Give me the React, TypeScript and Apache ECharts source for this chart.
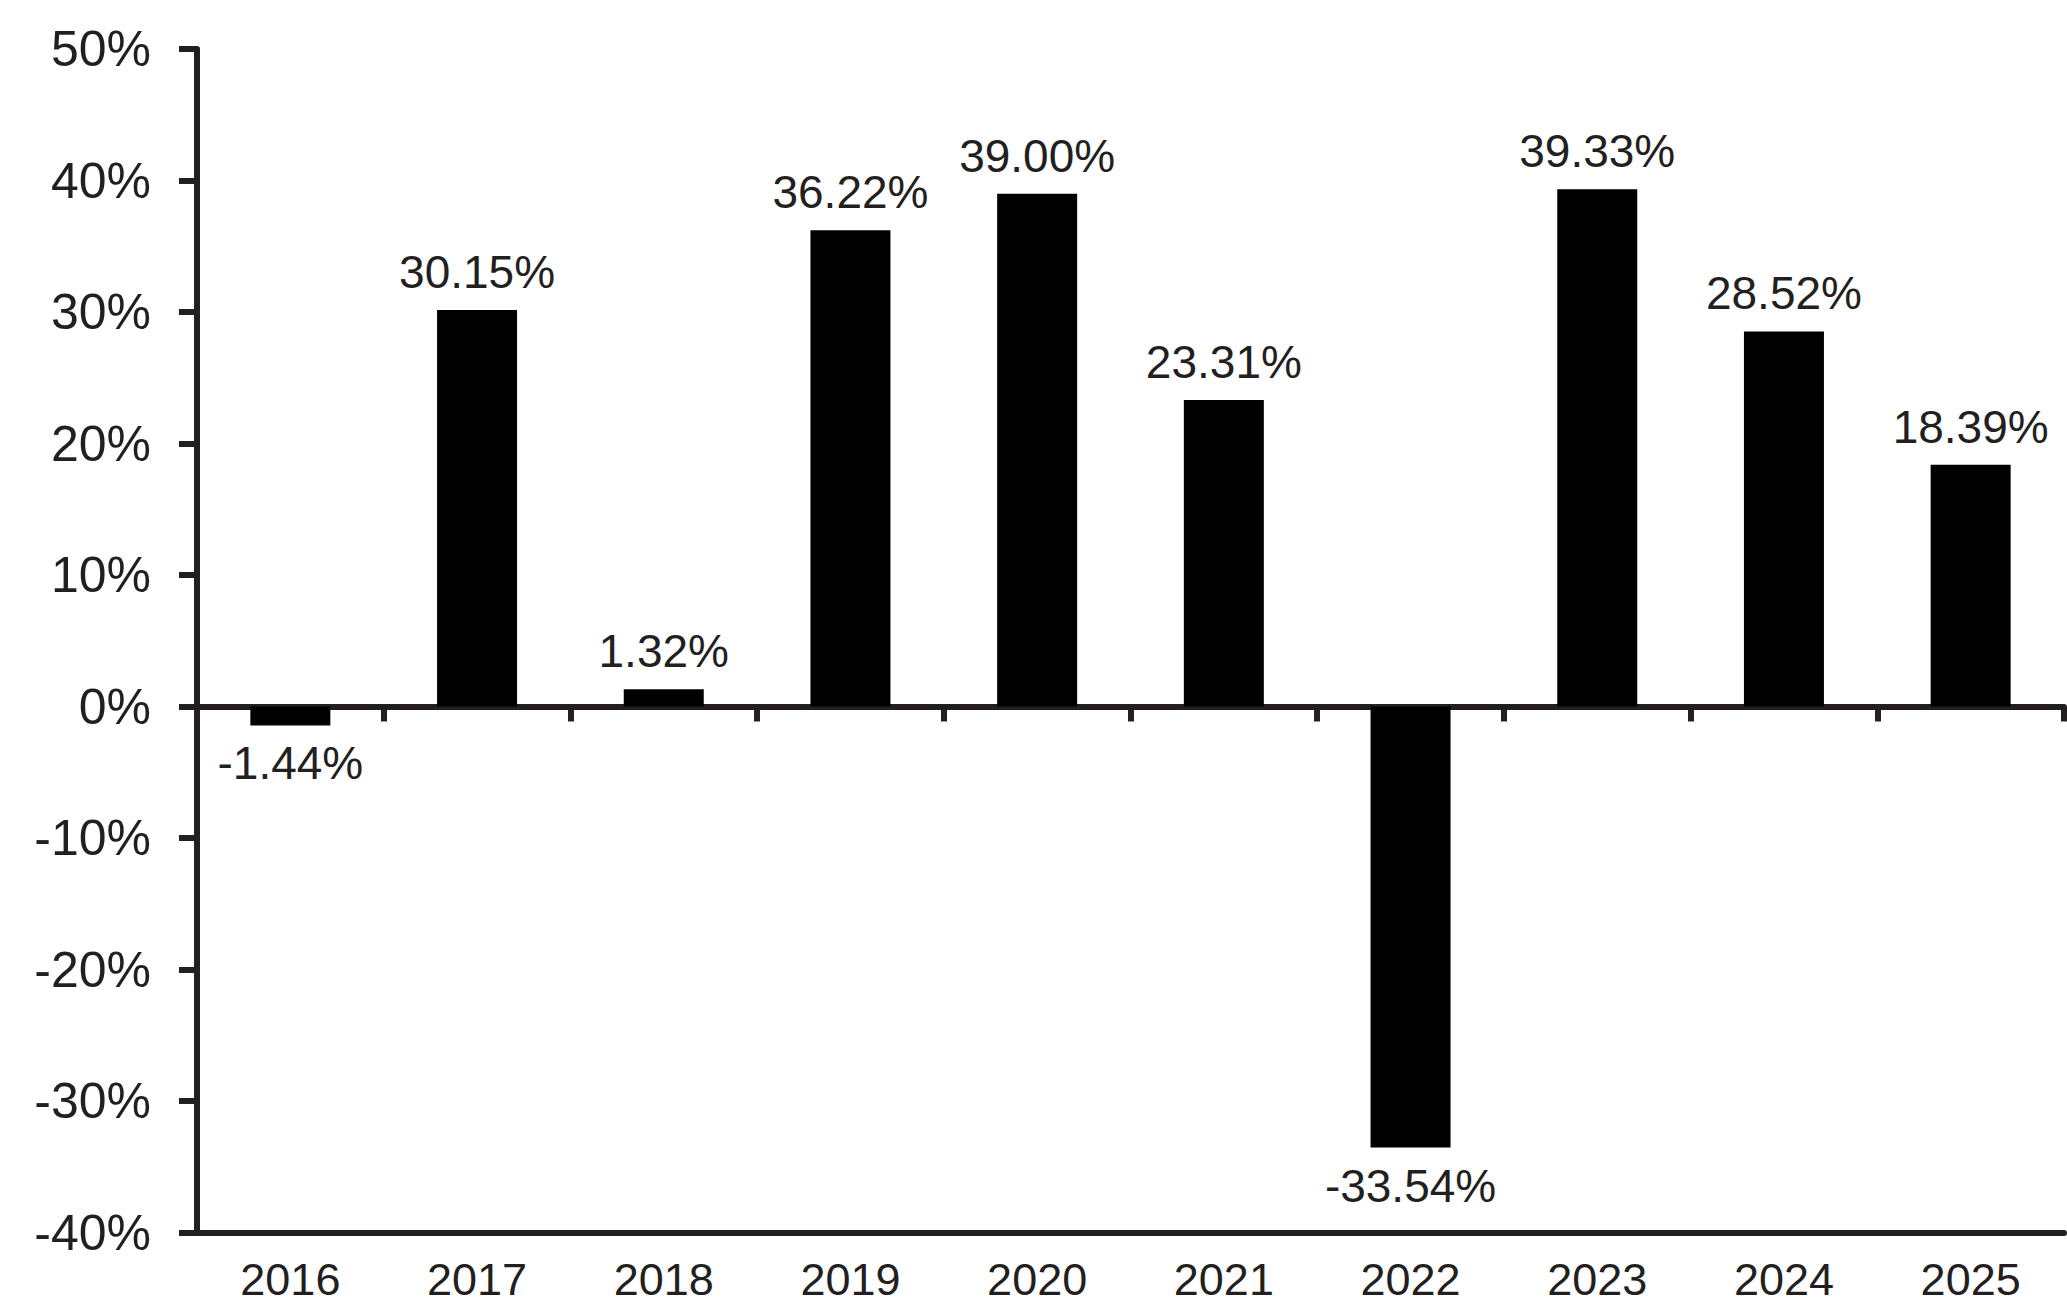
import React, { useEffect, useRef } from "react";
import * as echarts from "echarts";

const categories = ["2016", "2017", "2018", "2019", "2020", "2021", "2022", "2023", "2024", "2025"];
const returns = [-1.44, 30.15, 1.32, 36.22, 39.0, 23.31, -33.54, 39.33, 28.52, 18.39];
const yMin = -40;
const yMax = 50;
const yStep = 10;

const INK = "#231f20";
const FONT = "'Liberation Sans', Arial, Helvetica, sans-serif";

export default function App() {
  const ref = useRef<HTMLDivElement>(null);
  useEffect(() => {
    if (!ref.current) return;
    const chart = echarts.init(ref.current, undefined, { renderer: "svg" });
    chart.setOption({
      animation: false,
      backgroundColor: "#ffffff",
      grid: { left: 197, right: 3, top: 49, bottom: 75.5, containLabel: false },
      xAxis: [
        {
          type: "category",
          data: categories,
          position: "bottom",
          axisLine: { show: true, onZero: true, lineStyle: { color: INK, width: 6 } },
          axisTick: { show: true, length: 15, lineStyle: { color: INK, width: 6 } },
          axisLabel: { show: false },
          splitLine: { show: false },
        },
        {
          type: "category",
          data: categories,
          position: "bottom",
          axisLine: { show: true, onZero: false, lineStyle: { color: INK, width: 6 } },
          axisTick: { show: false },
          axisLabel: {
            show: true,
            color: INK,
            fontFamily: FONT,
            fontSize: 45,
            lineHeight: 36,
            margin: 29,
          },
          splitLine: { show: false },
        },
      ],
      yAxis: {
        type: "value",
        min: yMin,
        max: yMax,
        interval: yStep,
        axisLine: { show: true, lineStyle: { color: INK, width: 6 } },
        axisTick: { show: true, length: 18, lineStyle: { color: INK, width: 6 } },
        axisLabel: {
          color: INK,
          fontFamily: FONT,
          fontSize: 50,
          margin: 46,
          formatter: (v: number) => `${v}%`,
        },
        splitLine: { show: false },
      },
      series: [
        {
          type: "bar",
          xAxisIndex: 0,
          barWidth: 80,
          itemStyle: { color: "#000000" },
          data: returns.map((v) => ({
            value: v,
            label: { position: v < 0 ? "bottom" : "top" },
          })),
          label: {
            show: true,
            distance: 15,
            color: INK,
            fontFamily: FONT,
            fontSize: 46,
            formatter: (p: any) => `${Number(p.value).toFixed(2)}%`,
          },
          z: 1,
        },
      ],
    });
    return () => chart.dispose();
  }, []);
  return (
    <div
      ref={ref}
      style={{ position: "fixed", left: 0, top: 0, width: 2067, height: 1308, background: "#fff" }}
    />
  );
}
